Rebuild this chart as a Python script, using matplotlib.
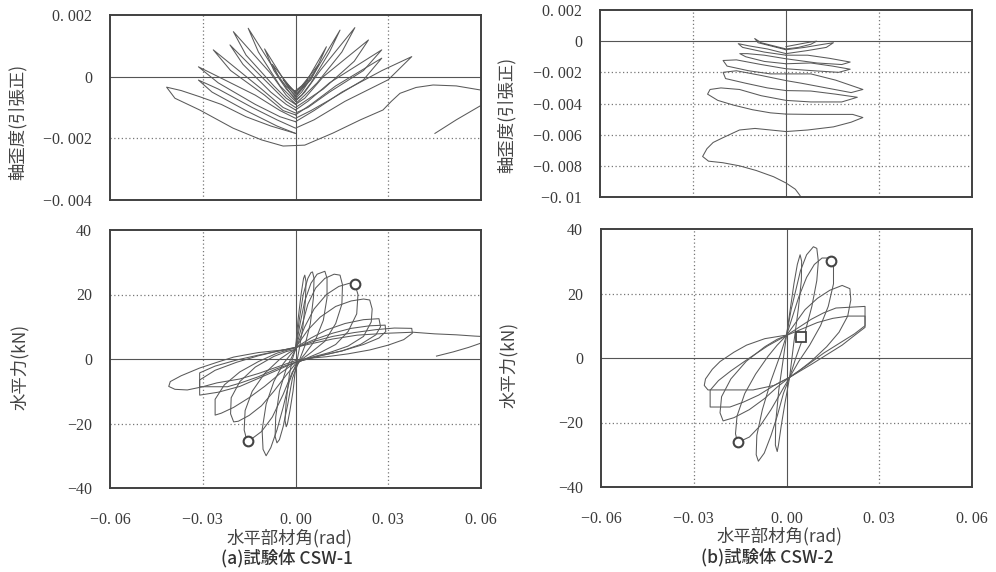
import matplotlib.pyplot as plt
import numpy as np

plt.rcParams['font.family'] = ['Noto Sans CJK JP', 'DejaVu Sans']

# ---- tick values / labels ----
x_ticks = [-0.06, -0.03, 0.0, 0.03, 0.06]
x_ticklabels = ['−0. 06', '−0. 03', '0. 00', '0. 03', '0. 06']
strain1_ticks = [0.002, 0.0, -0.002, -0.004]
strain1_ticklabels = ['0. 002', '0', '−0. 002', '−0. 004']
strain2_ticks = [0.002, 0.0, -0.002, -0.004, -0.006, -0.008, -0.01]
strain2_ticklabels = ['0. 002', '0', '−0. 002', '−0. 004', '−0. 006', '−0. 008', '−0. 01']
force_ticks = [40, 20, 0, -20, -40]
force_ticklabels = ['40', '20', '0', '−20', '−40']

# ---- CSW-1 axial strain vs rotation ----
csw1_strain = [
    [(0, -0.00045), (0.002, -0.0003), (0.004, -0.0001), (0.002, -0.00035), (0, -0.0005),
     (-0.002, -0.0003), (-0.004, -0.0001), (-0.002, -0.00035), (0, -0.0005)],
    [(0, -0.0005), (0.002, -0.0003), (0.0075, 0.0004), (0.005, -0.0001), (0.002, -0.0004), (0, -0.00055),
     (-0.002, -0.0003), (-0.0075, 0.0004), (-0.005, -0.0001), (-0.002, -0.0004), (0, -0.0006)],
    [(0, -0.0006), (0.002, -0.0004), (0.005, 0.0001), (0.010, 0.00097), (0.007, 0.0003), (0.003, -0.0003),
     (0, -0.00065), (-0.002, -0.0004), (-0.005, 0.0001), (-0.010, 0.0009), (-0.007, 0.0002),
     (-0.003, -0.0004), (0, -0.0007)],
    [(0, -0.0007), (0.002, -0.0005), (0.006, 0.0001), (0.0144, 0.00151), (0.011, 0.0008), (0.005, -0.0002),
     (0.002, -0.0006), (0, -0.00075), (-0.002, -0.0005), (-0.006, 0.0001), (-0.0153, 0.00157),
     (-0.012, 0.0008), (-0.005, -0.0003), (-0.002, -0.0006), (0, -0.0008)],
    [(0, -0.0008), (0.003, -0.0005), (0.008, 0.0002), (0.0192, 0.00159), (0.015, 0.0008), (0.007, -0.0002),
     (0.003, -0.0006), (0, -0.00088), (-0.003, -0.0006), (-0.008, 0.0001), (-0.0201, 0.00146),
     (-0.016, 0.0007), (-0.007, -0.0003), (-0.003, -0.0007), (0, -0.0009)],
    [(0, -0.0009), (0.003, -0.0007), (0.009, 0.0), (0.0236, 0.00119), (0.019, 0.0005), (0.009, -0.0004),
     (0.003, -0.0008), (0, -0.001), (-0.003, -0.0008), (-0.009, -0.0002), (-0.0212, 0.00103),
     (-0.017, 0.0004), (-0.008, -0.0005), (-0.003, -0.0009), (0, -0.00108)],
    [(0, -0.00108), (0.004, -0.0008), (0.011, -0.0002), (0.0279, 0.00087), (0.022, 0.0002), (0.011, -0.0005),
     (0.004, -0.001), (0, -0.00118), (-0.004, -0.001), (-0.011, -0.0004), (-0.0266, 0.00087),
     (-0.021, 0.0002), (-0.010, -0.0006), (-0.004, -0.0011), (0, -0.00124)],
    [(0, -0.00124), (0.005, -0.0009), (0.013, -0.0003), (0.0279, 0.0006), (0.022, -0.0001), (0.012, -0.0007),
     (0.005, -0.0011), (0, -0.00135), (-0.005, -0.0011), (-0.013, -0.0006), (-0.0314, 0.00032),
     (-0.025, -0.0002), (-0.013, -0.0009), (-0.005, -0.0013), (0, -0.00146)],
    [(0, -0.00146), (0.006, -0.0011), (0.015, -0.0005), (0.028, 0.0002), (0.0376, 0.00065), (0.030, -0.0001),
     (0.016, -0.0008), (0.006, -0.0014), (0, -0.00167), (-0.006, -0.0014), (-0.014, -0.001),
     (-0.025, -0.0004), (-0.0314, -0.00011), (-0.027, -0.0005), (-0.016, -0.0011), (-0.006, -0.0016),
     (0, -0.00184)],
    [(0, -0.00184), (-0.008, -0.0016), (-0.016, -0.0013), (-0.024, -0.0009), (-0.031, -0.00065),
     (-0.037, -0.00045), (-0.0417, -0.00034), (-0.039, -0.0007), (-0.031, -0.00108), (-0.0202, -0.00167),
     (-0.011, -0.00205), (-0.004, -0.00225), (0.003, -0.00222), (0.0121, -0.00183), (0.021, -0.0014),
     (0.0283, -0.00108), (0.031, -0.0008), (0.0338, -0.00054), (0.039, -0.00035), (0.0445, -0.00027),
     (0.052, -0.0003), (0.0597, -0.00043), (0.062, -0.00045)],
    [(0.062, -0.0009), (0.0597, -0.00095), (0.052, -0.0014), (0.0451, -0.00184)],
]

# ---- CSW-2 axial strain vs rotation ----
csw2_strain = [
    [(0, -0.00035), (0.004, -0.0002), (0.008, -0.00005), (0.0099, 0.0), (0.008, -0.0002), (0.004, -0.0004),
     (0, -0.0005), (-0.004, -0.0003), (-0.008, -0.0001), (-0.0101, 0.00017), (-0.009, -0.0001),
     (-0.005, -0.0003), (0, -0.00055)],
    [(0, -0.00055), (0.006, -0.0004), (0.012, -0.0002), (0.0153, -0.0001), (0.013, -0.0004), (0.007, -0.0006),
     (0, -0.0008), (-0.006, -0.0005), (-0.012, -0.0003), (-0.0154, -0.00016), (-0.014, -0.0004),
     (-0.007, -0.0007), (0, -0.0009)],
    [(0, -0.0009), (0.007, -0.0009), (0.014, -0.0011), (0.0207, -0.00134), (0.018, -0.0015), (0.010, -0.0014),
     (0, -0.00113), (-0.007, -0.0009), (-0.0125, -0.0008), (-0.0149, -0.0008), (-0.013, -0.001),
     (-0.007, -0.0013), (0, -0.00145)],
    [(0, -0.00145), (0.008, -0.0014), (0.015, -0.0016), (0.0207, -0.0018), (0.017, -0.002), (0.009, -0.0019),
     (0, -0.00177), (-0.008, -0.0015), (-0.016, -0.0012), (-0.0203, -0.00124), (-0.019, -0.0016),
     (-0.012, -0.0019), (-0.005, -0.0021), (0, -0.0021)],
    [(0, -0.0021), (0.008, -0.0021), (0.016, -0.0025), (0.0248, -0.0031), (0.021, -0.0033), (0.013, -0.003),
     (0.005, -0.0027), (0, -0.00253), (-0.008, -0.0022), (-0.016, -0.0019), (-0.0203, -0.002),
     (-0.0195, -0.0024), (-0.013, -0.0027), (-0.006, -0.003), (0, -0.00317)],
    [(0, -0.00317), (0.008, -0.0032), (0.016, -0.0034), (0.023, -0.0036), (0.018, -0.0039), (0.008, -0.0039),
     (0, -0.0038), (-0.008, -0.0035), (-0.015, -0.0031), (-0.021, -0.003), (-0.0245, -0.0031),
     (-0.0253, -0.0034), (-0.022, -0.0038), (-0.017, -0.0041), (-0.0108, -0.0044), (-0.005, -0.0046),
     (0, -0.00468)],
    [(0, -0.00468), (0.008, -0.0047), (0.0153, -0.0047), (0.0215, -0.0047), (0.0248, -0.0049), (0.021, -0.0052),
     (0.0153, -0.0055), (0.007, -0.0057), (0, -0.0058)],
    [(0, -0.0058), (-0.005, -0.0057), (-0.010, -0.0056), (-0.015, -0.0057), (-0.0204, -0.0062),
     (-0.0235, -0.0065), (-0.0255, -0.0069), (-0.0269, -0.0074), (-0.025, -0.0077), (-0.0204, -0.0078),
     (-0.015, -0.008), (-0.0096, -0.0083), (-0.004, -0.0087), (0.0, -0.0091), (0.003, -0.0095),
     (0.0045, -0.0099), (0.005, -0.0101)],
]

# ---- CSW-1 horizontal force (kN) vs rotation ----
csw1_force = [
    [(0.0, 3), (0.0008, 12), (0.0018, 20), (0.0026, 25), (0.003, 26), (0.0034, 24), (0.0032, 18),
     (0.0024, 10), (0.0012, 3), (0.0, -3), (-0.0008, -10), (-0.0018, -16), (-0.0026, -20), (-0.003, -21),
     (-0.0034, -19), (-0.003, -13), (-0.002, -5), (-0.001, 0), (0.0, 3)],
    [(0.0, 3), (0.0012, 12), (0.0025, 20), (0.004, 25), (0.005, 26.8), (0.0055, 27), (0.006, 25),
     (0.0058, 19), (0.0048, 11), (0.003, 4), (0.001, -1), (-0.001, -6), (-0.0025, -14), (-0.004, -21),
     (-0.0052, -25), (-0.006, -26), (-0.0066, -24), (-0.0064, -18), (-0.0052, -10), (-0.003, -3),
     (-0.001, 1), (0.0, 3)],
    [(0.0, 3), (0.0015, 11), (0.003, 18), (0.005, 23.5), (0.007, 26.3), (0.0095, 27.2), (0.0102, 25),
     (0.0102, 19), (0.009, 12), (0.0065, 6), (0.003, 1.5), (0.0, -2), (-0.002, -7), (-0.004, -15),
     (-0.006, -22), (-0.008, -27.5), (-0.0095, -30), (-0.0105, -28), (-0.0108, -22), (-0.0095, -14),
     (-0.007, -7), (-0.004, -1.5), (-0.0015, 1.5), (0.0, 3)],
    [(0.0, 3), (0.002, 10), (0.004, 17), (0.0065, 22), (0.0095, 25), (0.0125, 26.3), (0.0144, 26),
     (0.0152, 23), (0.015, 17), (0.013, 11), (0.0095, 5.5), (0.005, 2), (0.0015, -0.5), (-0.001, -4),
     (-0.004, -11), (-0.0075, -18), (-0.011, -22.5), (-0.0145, -25), (-0.0158, -25), (-0.0166, -22),
     (-0.0163, -16), (-0.014, -10), (-0.010, -4.5), (-0.005, 0), (-0.002, 2), (0.0, 3)],
    [(0.0, 3), (0.003, 10), (0.006, 15.5), (0.010, 20), (0.014, 22.5), (0.0175, 23.5), (0.0192, 23.3),
     (0.0202, 20), (0.0198, 14), (0.017, 8.5), (0.013, 4.5), (0.008, 2), (0.003, 0), (0.0, -1.5),
     (-0.003, -5), (-0.007, -10), (-0.011, -14.5), (-0.015, -17.5), (-0.0185, -19.3), (-0.020, -19.5),
     (-0.021, -17), (-0.0208, -12), (-0.018, -7), (-0.013, -2.5), (-0.007, 0.8), (-0.003, 2.3), (0.0, 3)],
    [(0.0, 3.5), (0.004, 9), (0.008, 13), (0.013, 16.3), (0.018, 18), (0.022, 18.6), (0.024, 18.3),
     (0.0248, 15.5), (0.0245, 11.5), (0.022, 7), (0.017, 4), (0.011, 2), (0.005, 0.5), (0.0, -1),
     (-0.005, -4.5), (-0.010, -8.5), (-0.015, -12), (-0.020, -15), (-0.024, -16.8), (-0.026, -17.4),
     (-0.026, -12.5), (-0.023, -8), (-0.018, -4), (-0.012, -0.8), (-0.006, 1.8), (0.0, 3.5)],
    [(0.0, 3.5), (0.005, 6.5), (0.010, 9), (0.016, 11), (0.022, 12.2), (0.027, 12.5), (0.0275, 10),
     (0.026, 7.5), (0.021, 4.5), (0.015, 2.5), (0.008, 1), (0.0, -1), (-0.006, -3.5), (-0.012, -6),
     (-0.018, -8.5), (-0.025, -10.3), (-0.031, -11.2), (-0.031, -6.5), (-0.026, -3.5), (-0.019, -1),
     (-0.012, 1), (-0.005, 2.6), (0.0, 3.5)],
    [(0.0, 3.5), (0.006, 6), (0.012, 8), (0.018, 9.5), (0.024, 10.3), (0.029, 10.5), (0.0292, 8.5),
     (0.027, 6.5), (0.022, 4.5), (0.015, 2.5), (0.008, 1), (0.0, -1), (-0.006, -3), (-0.012, -5.5),
     (-0.018, -7.5), (-0.022, -8.6), (-0.031, -8.6), (-0.031, -4.3), (-0.026, -2.2), (-0.019, -0.3),
     (-0.012, 1.2), (-0.005, 2.6), (0.0, 3.5)],
    [(0.0, 3.5), (0.006, 5.5), (0.012, 7), (0.019, 8.2), (0.026, 9.1), (0.032, 9.6), (0.0376, 9.5),
     (0.0378, 8), (0.035, 6), (0.030, 4.3), (0.024, 2.8), (0.017, 1.6), (0.010, 0.7), (0.004, 0.2),
     (0.0, -0.5), (-0.006, -2.5), (-0.012, -4.5), (-0.018, -6.2), (-0.0254, -7.4), (-0.030, -8.6),
     (-0.035, -9.6), (-0.039, -9.4), (-0.041, -8.5), (-0.0405, -7.0), (-0.037, -5.2), (-0.031, -2.8),
     (-0.025, -0.9), (-0.020, 0.6), (-0.012, 2), (-0.004, 2.8)],
    [(-0.004, 2.8), (0.004, 4.5), (0.012, 6.2), (0.020, 7.4), (0.030, 8.0), (0.038, 8.3), (0.045, 7.8),
     (0.052, 7.5), (0.058, 7.1), (0.062, 6.9)],
    [(0.062, 5.6), (0.056, 3.6), (0.051, 2.2), (0.0456, 0.9)],
]
csw1_circles_x = [0.0192, -0.0155]
csw1_circles_y = [23.3, -25.3]

# ---- CSW-2 horizontal force (kN) vs rotation ----
csw2_force = [
    [(0.0, 7), (0.0012, 15), (0.0024, 23), (0.0035, 29), (0.0044, 32), (0.0049, 30), (0.0048, 24),
     (0.0038, 15), (0.0024, 5), (0.001, -6), (-0.0005, -14), (-0.0017, -21), (-0.0026, -27), (-0.003, -29),
     (-0.0036, -27), (-0.0035, -20), (-0.0025, -10), (-0.001, 0), (0.0, 7)],
    [(0.0, 7), (0.0015, 15), (0.003, 21), (0.0045, 27), (0.0065, 32), (0.0087, 34.5), (0.0098, 34),
     (0.0103, 30), (0.0098, 24), (0.0082, 16), (0.006, 8), (0.003, 0), (0.001, -6), (-0.001, -11),
     (-0.003, -18), (-0.005, -24), (-0.0072, -29.5), (-0.0091, -32), (-0.0098, -30), (-0.0096, -24),
     (-0.0078, -16), (-0.005, -7), (-0.002, 1), (0.0, 7)],
    [(0.0, 7), (0.002, 13), (0.004, 19), (0.0065, 25), (0.009, 29), (0.0115, 31), (0.0144, 31),
     (0.0152, 28.5), (0.0152, 23), (0.0135, 16), (0.011, 10), (0.0075, 4), (0.004, -1), (0.001, -6),
     (-0.002, -11), (-0.005, -16), (-0.0085, -21), (-0.012, -24.5), (-0.0158, -26.2), (-0.0165, -23.5),
     (-0.016, -18), (-0.0135, -11), (-0.010, -5), (-0.006, 0.5), (-0.003, 4), (0.0, 7)],
    [(0.0, 7), (0.003, 11), (0.006, 15), (0.010, 18.5), (0.014, 21), (0.018, 22.5), (0.0205, 21.5),
     (0.0208, 18), (0.0198, 13), (0.017, 8), (0.013, 3.5), (0.008, -1), (0.004, -4), (0.001, -6),
     (-0.003, -9), (-0.007, -12.5), (-0.012, -16), (-0.017, -18.5), (-0.0205, -19.5), (-0.0215, -17),
     (-0.021, -12), (-0.018, -6.5), (-0.013, -1), (-0.007, 3.5), (-0.003, 5.8), (0.0, 7)],
    [(0.0, 7), (0.004, 9.5), (0.008, 12), (0.012, 14), (0.016, 15.5), (0.0254, 16), (0.0254, 10),
     (0.022, 7.5), (0.017, 4.5), (0.012, 1.5), (0.007, -2), (0.001, -6), (-0.004, -8.5), (-0.009, -11.5),
     (-0.014, -13.7), (-0.0183, -15.2), (-0.0247, -15.2), (-0.0247, -10), (-0.022, -7), (-0.018, -4),
     (-0.012, 0), (-0.006, 3.8), (0.0, 7)],
    [(0.0, 7), (0.005, 9), (0.010, 11), (0.015, 12.3), (0.020, 13), (0.0254, 13), (0.0254, 9.5),
     (0.022, 7), (0.018, 4), (0.013, 1), (0.008, -2), (0.001, -6), (-0.004, -8.5), (-0.0108, -9.9),
     (-0.0254, -9.9), (-0.0266, -8.5), (-0.0262, -6.5), (-0.024, -3.5), (-0.0215, -1.1), (-0.017, 1.8),
     (-0.0129, 4), (-0.007, 6), (0.0, 7.1)],
]
csw2_circles_x = [0.0144, -0.0158]
csw2_circles_y = [30.1, -26.2]
csw2_square_x = [0.0046]
csw2_square_y = [6.4]

line_c = '#5a5a5a'
tick_font = dict(family='Liberation Serif', size=11.5, color='#3a3a3a')

fig = plt.figure(figsize=(9.96, 5.72), dpi=100)
W, H = 996, 572


def make_ax(l, t, r, b):
    return fig.add_axes([l / W, 1 - b / H, (r - l) / W, (b - t) / H])


def setup(ax, ylim, yticks, ylabels, ygrid, show_x):
    ax.set_xlim(-0.06, 0.06)
    ax.set_ylim(ylim)
    ax.set_xticks(x_ticks)
    ax.set_yticks(yticks)
    ax.set_yticklabels(ylabels, fontdict=tick_font)
    if show_x:
        ax.set_xticklabels(x_ticklabels, fontdict=tick_font)
    else:
        ax.set_xticklabels([])
    ax.tick_params(length=0, pad=13)
    ax.tick_params(axis='x', pad=17)
    for s in ax.spines.values():
        s.set_color('#404040')
        s.set_linewidth(1.4)
    for gx in [-0.03, 0.03]:
        ax.axvline(gx, color='#777777', lw=0.9, ls=(0, (1, 2)), zorder=1)
    for gy in ygrid:
        ax.axhline(gy, color='#777777', lw=0.9, ls=(0, (1, 2)), zorder=1)
    ax.axvline(0, color='#555555', lw=0.8, zorder=1)
    ax.axhline(0, color='#555555', lw=0.8, zorder=1)


def draw_loops(ax, loops):
    for lp in loops:
        xs = [p[0] for p in lp]
        ys = [p[1] for p in lp]
        ax.plot(xs, ys, color=line_c, lw=0.75, zorder=2, solid_joinstyle='round')


ax1 = make_ax(110, 15, 481, 200)
setup(ax1, (-0.004, 0.002), strain1_ticks, strain1_ticklabels, [-0.002], False)
draw_loops(ax1, csw1_strain)

ax2 = make_ax(600, 10, 972, 197)
setup(ax2, (-0.01, 0.002), strain2_ticks, strain2_ticklabels, [-0.002, -0.004, -0.006, -0.008], False)
draw_loops(ax2, csw2_strain)

ax3 = make_ax(110, 230, 481, 488)
setup(ax3, (-40, 40), force_ticks, force_ticklabels, [20, -20], True)
draw_loops(ax3, csw1_force)
ax3.plot(csw1_circles_x, csw1_circles_y, 'o', ms=7, mfc='white', mec='#444444', mew=1.5, ls='none', zorder=3)

ax4 = make_ax(601, 229, 972, 487)
setup(ax4, (-40, 40), force_ticks, force_ticklabels, [20, -20], True)
draw_loops(ax4, csw2_force)
ax4.plot(csw2_circles_x, csw2_circles_y, 'o', ms=7, mfc='white', mec='#444444', mew=1.5, ls='none', zorder=3)
ax4.plot(csw2_square_x, csw2_square_y, 's', ms=7, mfc='white', mec='#444444', mew=1.3, ls='none', zorder=3)

lab = dict(fontsize=12.5, color='#444444', ha='center', va='center')
fig.text(18 / W, 1 - 122 / H, '軸歪度(引張正)', rotation=90, **lab)
fig.text(507 / W, 1 - 115 / H, '軸歪度(引張正)', rotation=90, **lab)
fig.text(20 / W, 1 - 367 / H, '水平力(kN)', rotation=90, **lab)
fig.text(509 / W, 1 - 365 / H, '水平力(kN)', rotation=90, **lab)
fig.text(290 / W, 1 - 538 / H, '水平部材角(rad)', **lab)
fig.text(780 / W, 1 - 536 / H, '水平部材角(rad)', **lab)
fig.text(287 / W, 1 - 558 / H, '(a)試験体 CSW-1', fontsize=12.5, color='#333333', ha='center', va='center', weight='medium')
fig.text(767 / W, 1 - 557 / H, '(b)試験体 CSW-2', fontsize=12.5, color='#333333', ha='center', va='center', weight='medium')

fig.savefig('out.png', dpi=100, facecolor='white')
